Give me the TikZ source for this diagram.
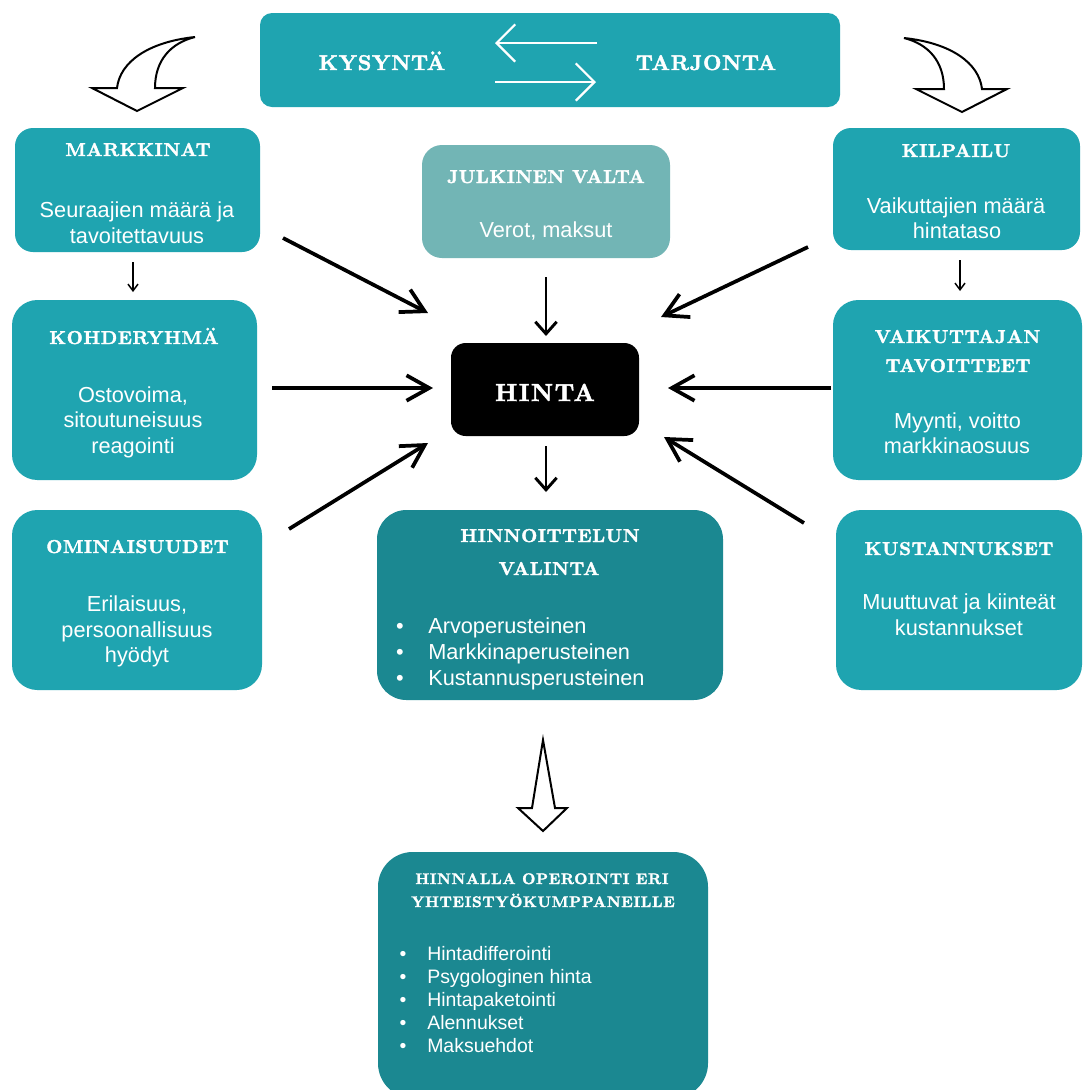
\documentclass[tikz,border=0pt]{standalone}
\usepackage{fontspec}
\setmainfont{Liberation Sans}
\newfontfamily\cpfont[LetterSpace=3, FakeBold=2]{lmroman10-bold.otf}
\newfontfamily\cpfonts[LetterSpace=4, FakeBold=2]{lmroman10-bold.otf}
\newfontfamily\cpfontw[LetterSpace=6, FakeBold=2]{lmroman10-bold.otf}
\usetikzlibrary{arrows.meta,fit}
\definecolor{tealA}{RGB}{31,164,176}
\definecolor{tealL}{RGB}{114,181,181}
\definecolor{tealD}{RGB}{27,136,145}
\begin{document}
\begin{tikzpicture}[x=0.75pt,y=-0.75pt,
  box/.style={fill=tealA, draw=none, inner sep=0pt, rounded corners=#1},
  box/.default=14pt,
  lbox/.style={fill=tealL, draw=none, inner sep=0pt, rounded corners=15pt},
  dbox/.style={fill=tealD, draw=none, inner sep=0pt, rounded corners=#1},
  dbox/.default=22pt,
  hbox/.style={fill=black, draw=none, inner sep=0pt, rounded corners=11pt},
  ttl/.style={text=white, inner sep=0pt, anchor=base, font=\cpfont\fontsize{14}{16}\selectfont},
  ttls/.style={text=white, inner sep=0pt, anchor=base, font=\cpfonts\fontsize{11.5}{13}\selectfont},
  ttlt/.style={text=white, inner sep=0pt, anchor=base, font=\cpfont\fontsize{16}{18}\selectfont},
  ttlh/.style={text=white, inner sep=0pt, anchor=base, font=\cpfontw\fontsize{18.5}{21}\selectfont},
  bod/.style={text=white, inner sep=0pt, anchor=base, font=\fontsize{16.3}{19.5}\selectfont},
  bodl/.style={bod, anchor=base west},
  bods/.style={text=white, inner sep=0pt, anchor=base west, font=\fontsize{14.6}{17.5}\selectfont},
  bulA/.style={bod},
  bulB/.style={bods, anchor=base},
  bigarr/.style={line width=2.8pt, -{Straight Barb[length=17pt,width=19pt]}},
  medarr/.style={line width=2.2pt, -{Straight Barb[length=9pt,width=16pt]}},
  smallarr/.style={line width=1.1pt, -{Straight Barb[length=5pt,width=7.5pt]}},
  wharr/.style={draw=white, line width=1.6pt, -{Straight Barb[length=14pt,width=28pt]}},
  hollow/.style={draw=black, fill=white, line width=1.5pt, line join=miter}
]
\useasboundingbox (0,0) rectangle (1084,1090);
\fill[white] (0,0) rectangle (1084,1090);
\clip (0,0) rectangle (1084,1090);

% boxes
\node[box=9pt, fit={(260,13)(840,107)}] (top) {};
\node[box=13.5pt, fit={(15,128)(260,252)}] (markkinat) {};
\node[lbox, fit={(422,145)(670,258)}] (julkinen) {};
\node[box=13.5pt, fit={(833,128)(1080,250)}] (kilpailu) {};
\node[box=19pt, fit={(12,300)(257,480)}] (kohde) {};
\node[hbox, fit={(451,343)(639,436)}] (hinta) {};
\node[box=19pt, fit={(833,300)(1082,480)}] (vaikuttajan) {};
\node[box=19pt, fit={(12,510)(262,690)}] (omin) {};
\node[dbox=22pt, fit={(377,510)(723,700)}] (hinnoit) {};
\node[box=19pt, fit={(836,510)(1082,690)}] (kust) {};
\node[dbox=26pt, fit={(378,852)(708,1098)}] (hinnalla) {};

% top box
\node[ttlt] (kys) at (382,70) {KYSYNTÄ};
\node[ttlt] (tar) at (706,70) {TARJONTA};
\coordinate (wa1s) at (597,43); \coordinate (wa1e) at (495,43);
\coordinate (wa2s) at (495,82); \coordinate (wa2e) at (596,82);
\draw[wharr] (wa1s) -- (wa1e);
\draw[wharr] (wa2s) -- (wa2e);

% markkinat
\node[ttl] (m-t) at (138,156) {MARKKINAT};
\node[bod] (m-1) at (137,217) {Seuraajien määrä ja};
\node[bod] (m-2) at (137,243) {tavoitettavuus};

% julkinen valta
\node[ttl] (j-t) at (546,183) {JULKINEN VALTA};
\node[bod] (j-1) at (546,237) {Verot, maksut};

% kilpailu
\node[ttl] (k-t) at (956,157) {KILPAILU};
\node[bod] (k-1) at (956,213) {Vaikuttajien määrä};
\node[bod] (k-2) at (957,238) {hintataso};

% kohderyhma
\node[ttl] (kr-t) at (134,344) {KOHDERYHMÄ};
\node[bod] (kr-1) at (133,402) {Ostovoima,};
\node[bod] (kr-2) at (133,427) {sitoutuneisuus};
\node[bod] (kr-3) at (133,453) {reagointi};

% vaikuttajan tavoitteet
\node[ttl] (v-t1) at (957.5,343) {VAIKUTTAJAN};
\node[ttl] (v-t2) at (958,372) {TAVOITTEET};
\node[bod] (v-1) at (957.5,428) {Myynti, voitto};
\node[bod] (v-2) at (957,453) {markkinaosuus};

% hinta
\node[ttlh] (h-t) at (545,401) {HINTA};

% ominaisuudet
\node[ttl] (o-t) at (137.5,553) {OMINAISUUDET};
\node[bod] (o-1) at (137,611) {Erilaisuus,};
\node[bod] (o-2) at (137,637) {persoonallisuus};
\node[bod] (o-3) at (137,662) {hyödyt};

% hinnoittelun valinta
\node[ttl] (hv-t1) at (550,542) {HINNOITTELUN};
\node[ttl] (hv-t2) at (549,575) {VALINTA};
\node[bulA] (hv-b1) at (400,633) {•};
\node[bulA] (hv-b2) at (400,659) {•};
\node[bulA] (hv-b3) at (400,685) {•};
\node[bodl] (hv-1) at (428,633) {Arvoperusteinen};
\node[bodl] (hv-2) at (428,659) {Markkinaperusteinen};
\node[bodl] (hv-3) at (428,685) {Kustannusperusteinen};

% kustannukset
\node[ttl] (ku-t) at (959,555) {KUSTANNUKSET};
\node[bod] (ku-1) at (959,609) {Muuttuvat ja kiinteät};
\node[bod] (ku-2) at (959,635) {kustannukset};

% hinnalla operointi
\node[ttls] (ho-t1) at (542,884) {HINNALLA OPEROINTI ERI};
\node[ttls] (ho-t2) at (543,907) {YHTEISTYÖKUMPPANEILLE};
\node[bulB] (ho-b1) at (403,960) {•};
\node[bulB] (ho-b2) at (403,983) {•};
\node[bulB] (ho-b3) at (403,1006) {•};
\node[bulB] (ho-b4) at (403,1029) {•};
\node[bulB] (ho-b5) at (403,1052) {•};
\node[bods] (ho-1) at (427,960) {Hintadifferointi};
\node[bods] (ho-2) at (427,983) {Psygologinen hinta};
\node[bods] (ho-3) at (427,1006) {Hintapaketointi};
\node[bods] (ho-4) at (427,1029) {Alennukset};
\node[bods] (ho-5) at (427,1052) {Maksuehdot};

% arrows towards HINTA
\coordinate (tl-s) at (283,238); \coordinate (tl-e) at (428,313);
\coordinate (tr-s) at (808,247); \coordinate (tr-e) at (661,317);
\coordinate (ml-s) at (272,388); \coordinate (ml-e) at (433,388);
\coordinate (mr-s) at (831,388); \coordinate (mr-e) at (668,388);
\coordinate (bl-s) at (289,529); \coordinate (bl-e) at (428,443);
\coordinate (br-s) at (804,523); \coordinate (br-e) at (664,437);
\draw[bigarr] (tl-s) -- (tl-e);
\draw[bigarr] (tr-s) -- (tr-e);
\draw[bigarr] (ml-s) -- (ml-e);
\draw[bigarr] (mr-s) -- (mr-e);
\draw[bigarr] (bl-s) -- (bl-e);
\draw[bigarr] (br-s) -- (br-e);

\coordinate (jv-s) at (546,277); \coordinate (jv-e) at (546,336);
\coordinate (hv-s) at (546,446); \coordinate (hv-e) at (546,492);
\draw[medarr] (jv-s) -- (jv-e);
\draw[medarr] (hv-s) -- (hv-e);

\coordinate (ms-s) at (133,262); \coordinate (ms-e) at (133,292);
\coordinate (ks-s) at (960,260); \coordinate (ks-e) at (960,291);
\draw[smallarr] (ms-s) -- (ms-e);
\draw[smallarr] (ks-s) -- (ks-e);

% hollow arrows
\draw[hollow] (155,88) -- (183,88) -- (137,111) -- (92,88) -- (117,88)
  .. controls (120,62) and (148,42) .. (195,37)
  .. controls (171,43) and (155,60) .. (155,88) -- cycle;
\draw[hollow] (944,89) -- (916,89) -- (962,112) -- (1007,89) -- (982,89)
  .. controls (979,63) and (951,43) .. (904,38)
  .. controls (928,44) and (944,61) .. (944,89) -- cycle;
\draw[hollow] (543,740) -- (555,808) -- (567,808) -- (543,831) -- (518,808) -- (532,808) -- cycle;
\end{tikzpicture}
\end{document}
